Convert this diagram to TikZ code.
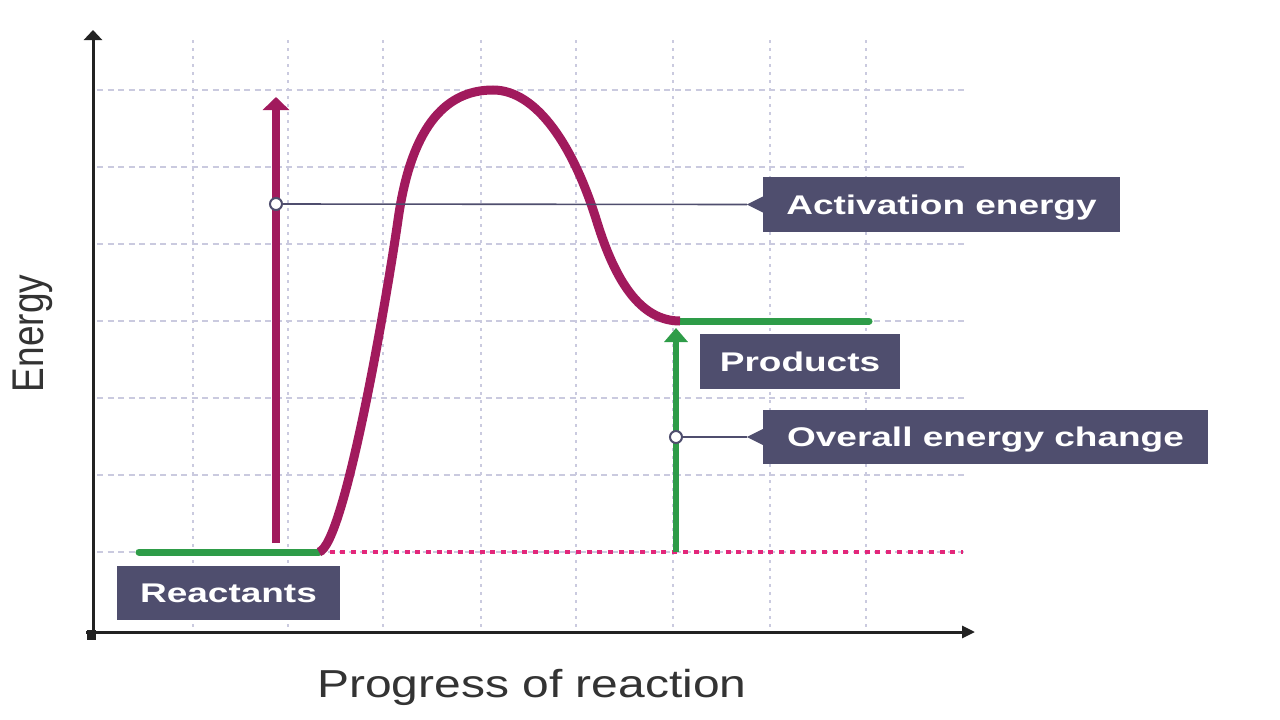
\documentclass[tikz,border=0pt]{standalone}
\usepackage{fontspec}
\setmainfont{Liberation Sans}
\usetikzlibrary{arrows.meta,calc}
\definecolor{curvec}{HTML}{A11A5D}
\definecolor{greenc}{HTML}{2E9C48}
\definecolor{boxc}{HTML}{4F4E6E}
\definecolor{pinkc}{HTML}{E3267A}
\definecolor{gridc}{HTML}{CACADF}
\definecolor{axisc}{HTML}{222222}
\definecolor{textc}{HTML}{333333}
\newcommand{\lbltxt}[1]{\scalebox{1.37}[1]{#1}}
\begin{document}
\begin{tikzpicture}[x=1pt,y=-1pt,
  gridh/.style={gridc,line width=2pt,dash pattern=on 6pt off 4.5pt},
  gridv/.style={gridc,line width=2.5pt,dash pattern=on 2.5pt off 5.5pt},
  axisline/.style={axisc,line width=3pt},
  levelline/.style={greenc,line width=7pt,line cap=round},
  baseline/.style={pinkc,line width=4pt,dash pattern=on 5pt off 5.7pt},
  curveline/.style={curvec,line width=9pt},
  marrow/.style={curvec,line width=7.5pt,-{Triangle[width=26pt,length=13pt]}},
  garrow/.style={greenc,line width=6.5pt,-{Triangle[width=23pt,length=14pt]}},
  dotc/.style={circle,draw=boxc,fill=white,line width=2pt,minimum size=12pt,inner sep=0pt},
  conn/.style={boxc,line width=1.6pt},
  lbox/.style={rectangle,fill=boxc,inner sep=0pt,text=white,
    font=\fontsize{27}{27}\selectfont\bfseries,text height=19.3pt,text depth=0pt},
  axlabel/.style={text=textc,inner sep=0pt}
]
\useasboundingbox[fill=white] (0,0) rectangle (1280,720);

% grid
\foreach \y in {90,167,244,321,398,475,552}
  \draw[gridh] (97,\y) -- (965,\y);
\foreach \x in {193,288,383,481,576,673,770,866}
  \draw[gridv] (\x,40) -- (\x,630);

% axes
\coordinate (origin) at (93,638);
\coordinate (ytop) at (93,30);
\coordinate (xleft) at (86,632);
\coordinate (xright) at (975,632);
\draw[axisline,-{Triangle[width=18pt,length=10pt]}] (origin) -- (ytop);
\draw[axisline,-{Triangle[width=12pt,length=13pt]}] (xleft) -- (xright);
\fill[axisc] (87,630) rectangle (96,640);

% reactant baseline (dotted)
\coordinate (r0) at (139,552);
\coordinate (r1) at (319,552);
\coordinate (bend) at (963,552);
\draw[baseline] (r1) -- (bend);

% levels
\coordinate (p0) at (680,321);
\coordinate (p1) at (869,321);
\draw[levelline] (r0) -- (r1);
\draw[levelline] (p0) -- (p1);

% energy curve
\draw[curveline] (r1) .. controls (345,545) and (388,290) .. (398,220)
  .. controls (412,120) and (450,90) .. (493,90)
  .. controls (537,90) and (574,147) .. (597,222)
  .. controls (615,280) and (640,321) .. (p0);

% activation energy arrow
\coordinate (ma0) at (276,543);
\coordinate (ma1) at (276,97);
\draw[marrow] (ma0) -- (ma1);

% overall energy change arrow
\coordinate (ga0) at (676,552);
\coordinate (ga1) at (676,328);
\draw[garrow] (ga0) -- (ga1);

% label boxes
\node[lbox,minimum width=357pt,minimum height=55pt] (abox) at (941.5,204.5) {\lbltxt{Activation energy}};
\node[lbox,minimum width=445pt,minimum height=54pt] (obox) at (985.5,437) {\lbltxt{Overall energy change}};
\node[lbox,minimum width=200pt,minimum height=55pt] (pbox) at (800,361.5) {\lbltxt{Products}};
\node[lbox,minimum width=223pt,minimum height=54pt] (rbox) at (228.5,593) {\lbltxt{Reactants}};

% pointers
\coordinate (atip) at ($(abox.west)+(-16,0)$);
\coordinate (otip) at ($(obox.west)+(-16,0)$);
\fill[boxc] ($(abox.west)+(0,-8)$) -- (atip) -- ($(abox.west)+(0,8)$) -- cycle;
\fill[boxc] ($(obox.west)+(0,-8)$) -- (otip) -- ($(obox.west)+(0,8)$) -- cycle;

% marker circles and connectors
\node[dotc] (ac) at (276,204) {};
\node[dotc] (oc) at (676,437) {};
\draw[conn] (ac) -- (atip);
\draw[conn] (oc) -- (otip);

% axis labels
\node[axlabel,anchor=base west,font=\fontsize{39}{39}\selectfont] (xlab) at (317,697) {\scalebox{1.23}[1]{Progress of reaction}};
\node[axlabel,anchor=base,rotate=90,font=\fontsize{37}{37}\selectfont] (ylab) at (43,333.5) {\scalebox{1}[1.2]{Energy}};
\end{tikzpicture}
\end{document}
